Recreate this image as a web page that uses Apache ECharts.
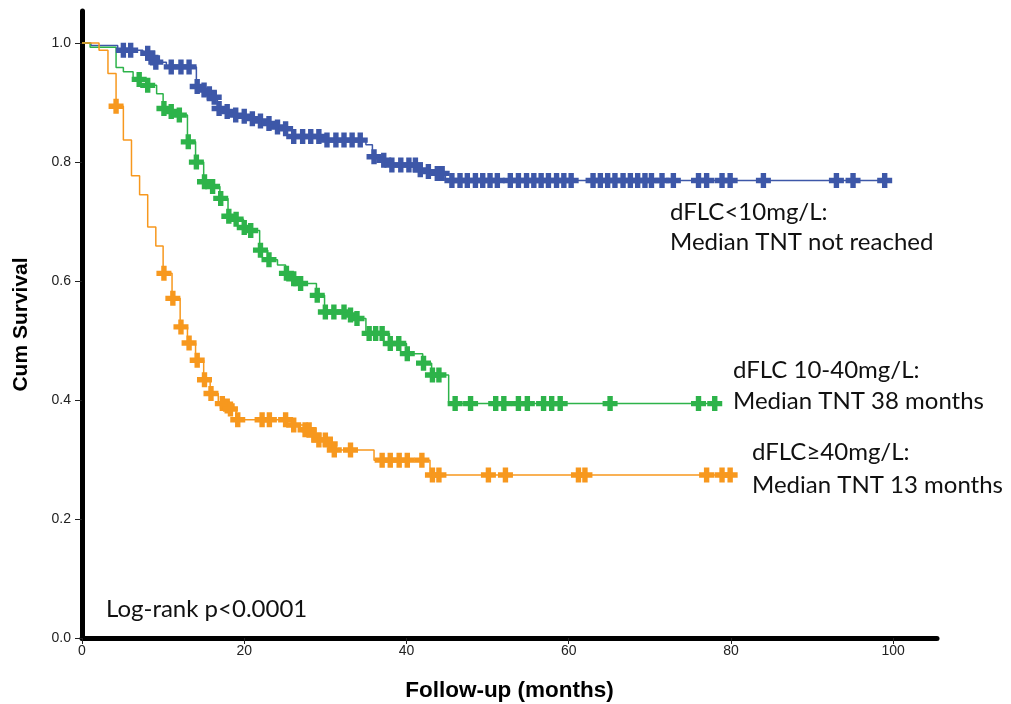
<!DOCTYPE html>
<html>
<head>
<meta charset="utf-8">
<script src="https://cdn.jsdelivr.net/npm/echarts@6/dist/echarts.min.js"></script>
<style>html,body{margin:0;padding:0;background:#fff}#c{width:1011px;height:704px}</style>
</head>
<body>
<div id="c"></div>
<script>
// Kaplan-Meier step points: [time (months), cumulative survival]
const lowSteps = [[0,1],[1.1,0.996],[4.4,0.988],[7.5,0.983],[8.5,0.975],[9.0,0.968],[10.4,0.960],[14.1,0.927],[15.0,0.921],[15.6,0.915],[16.2,0.909],[16.7,0.890],[17.7,0.885],[18.8,0.879],[19.8,0.877],[20.8,0.873],[21.8,0.869],[22.9,0.865],[23.9,0.859],[24.9,0.856],[25.9,0.843],[30.0,0.837],[35.0,0.829],[35.8,0.809],[37.0,0.803],[38.0,0.795],[41.5,0.787],[42.5,0.784],[43.6,0.781],[44.8,0.769],[99.5,0.769]];
const lowCensor = [5.1,6.0,8.1,8.7,9.1,11.0,12.2,13.2,14.2,15.05,15.7,16.3,16.9,17.9,18.95,20.0,21.0,22.0,23.05,24.1,25.1,26.1,27.2,28.2,29.2,30.2,31.3,32.3,33.3,34.3,36.0,37.2,38.2,39.3,40.3,41.1,41.7,42.7,43.8,44.4,45.6,46.6,47.5,48.5,49.4,50.3,51.2,52.8,53.8,54.8,55.7,56.6,57.5,58.5,59.4,60.3,63.0,63.9,64.8,65.7,66.7,67.6,68.5,69.4,70.2,71.5,72.9,76.0,77.0,78.9,79.9,84.0,93.0,95.05,98.95];

const midSteps = [[0,1],[1.0,0.993],[4.2,0.959],[5.1,0.952],[6.3,0.939],[8.0,0.929],[9.2,0.915],[10.0,0.890],[10.9,0.885],[11.9,0.879],[13.0,0.834],[14.0,0.800],[15.0,0.767],[16.0,0.759],[17.0,0.739],[18.0,0.709],[18.9,0.704],[19.9,0.690],[20.7,0.685],[21.9,0.652],[22.9,0.636],[24.1,0.627],[25.1,0.613],[26.0,0.604],[26.9,0.596],[28.9,0.576],[29.9,0.548],[33.0,0.543],[33.8,0.537],[35.0,0.512],[37.9,0.495],[40.0,0.478],[42.0,0.462],[43.1,0.442],[45.2,0.394],[78.85,0.394]];
const midCensor = [7.05,8.1,10.1,11.0,12.0,13.1,14.1,15.1,16.1,17.1,18.1,19.0,20.0,20.8,22.0,23.05,25.2,26.1,26.95,29.0,30.0,31.05,32.3,33.1,33.9,35.4,36.2,37.0,38.0,39.05,40.1,42.1,43.2,44.0,46.0,47.9,51.0,52.0,53.8,54.9,56.9,57.9,58.95,65.1,76.0,78.0];

const highSteps = [[0,1],[2.1,0.988],[3.2,0.949],[4.2,0.894],[5.1,0.837],[6.1,0.777],[7.1,0.745],[8.1,0.691],[9.1,0.659],[10.0,0.613],[11.1,0.571],[12.1,0.523],[13.0,0.496],[14.0,0.467],[15.0,0.434],[15.8,0.411],[16.8,0.394],[17.7,0.390],[18.1,0.385],[19.0,0.367],[25.8,0.358],[27.3,0.350],[28.4,0.341],[29.0,0.333],[30.4,0.326],[31.0,0.316],[36.0,0.299],[42.9,0.274],[80.7,0.274]];
const highCensor = [4.2,10.1,11.2,12.2,13.2,14.2,15.1,15.9,17.3,17.9,18.3,19.2,22.2,23.1,25.1,26.1,27.5,28.0,28.6,29.2,30.0,30.6,31.1,33.1,37.0,38.0,39.1,40.1,41.9,43.2,44.0,50.1,52.2,61.2,62.0,77.0,78.9,79.9];

const xTicks = [0,20,40,60,80,100];
const yTicks = [0,0.2,0.4,0.6,0.8,1.0];

const groupNames = ['dFLC<10mg/L','dFLC 10-40mg/L','dFLC≥40mg/L'];
const colors = ['#3D57A8','#2DB34A','#F7981E'];

function survAt(steps, t){
  let s = steps[0][1];
  for (const p of steps){ if (p[0] <= t + 1e-9) s = p[1]; else break; }
  return s;
}
const plus = 'path://M3.2,0h3.6v3.2h3.2v3.6h-3.2v3.2h-3.6v-3.2h-3.2v-3.6h3.2z';

const groups = [[lowSteps,lowCensor],[midSteps,midCensor],[highSteps,highCensor]];
const series = [];
groups.forEach((g,i)=>{
  series.push({name:groupNames[i], type:'line', step:'end', data:g[0], showSymbol:false, silent:true,
    lineStyle:{color:colors[i], width:1.5}, z:2});
  series.push({name:groupNames[i]+' censored', type:'scatter', data:g[1].map(t=>[t, survAt(g[0], t)]),
    symbol:plus, symbolSize:[15,15], itemStyle:{color:colors[i], opacity:1}, silent:true, z:3});
});

const chart = echarts.init(document.getElementById('c'), null, {renderer:'canvas'});
const noteFont = 'Lato, "Open Sans", sans-serif';
const note = (txt, x, y, size) => ({type:'text', x:x, y:y, silent:true,
  style:{text:txt, font:size+'px '+noteFont, fill:'#111', verticalAlign:'middle', align:'left'}});
chart.setOption({
  animation:false,
  backgroundColor:'#fff',
  grid:{left:82, right:74, top:11, bottom:66, containLabel:false, outerBoundsMode:'none'},
  xAxis:{type:'value', min:0, max:105.4,
    name:'Follow-up (months)', nameLocation:'middle', nameGap:41,
    nameTextStyle:{fontFamily:'Liberation Sans, Arial, sans-serif', fontWeight:'bold', fontSize:22.5, color:'#000'},
    axisLine:{show:true, onZero:false, lineStyle:{color:'#000', width:5}},
    axisTick:{show:true, length:6, customValues:xTicks, lineStyle:{color:'#222', width:1}},
    axisLabel:{customValues:xTicks, margin:6, fontFamily:'Liberation Sans, Arial, sans-serif', fontSize:14, color:'#222'},
    splitLine:{show:false}},
  yAxis:{type:'value', min:0, max:1.054,
    name:'Cum Survival', nameLocation:'middle', nameGap:50, nameRotate:90,
    nameTextStyle:{fontFamily:'Liberation Sans, Arial, sans-serif', fontWeight:'bold', fontSize:21, color:'#000'},
    axisLine:{show:true, onZero:false, lineStyle:{color:'#000', width:5}},
    axisTick:{show:true, length:7, customValues:yTicks, lineStyle:{color:'#222', width:1}},
    axisLabel:{customValues:yTicks, margin:11, formatter:v=>v.toFixed(1), fontFamily:'Liberation Sans, Arial, sans-serif', fontSize:14, color:'#222'},
    splitLine:{show:false}},
  series:series,
  graphic:[
    note('dFLC<10mg/L:', 670, 212, 24),
    note('Median TNT not reached', 670, 242, 24),
    note('dFLC 10-40mg/L:', 733, 370, 24),
    note('Median TNT 38 months', 733, 401, 24),
    note('dFLC≥40mg/L:', 752, 452, 24),
    note('Median TNT 13 months', 752, 485, 24),
    note('Log-rank p<0.0001', 106, 609, 24)
  ]
});
</script>
</body>
</html>
